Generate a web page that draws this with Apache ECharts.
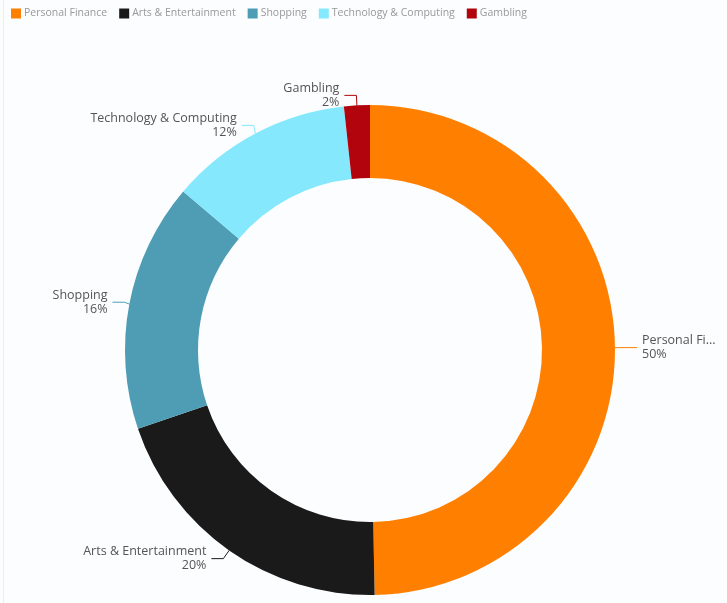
<!DOCTYPE html>
<html>
<head>
<meta charset="utf-8">
<script src="https://cdn.jsdelivr.net/npm/echarts@6/dist/echarts.min.js"></script>
<style>
  html, body { margin: 0; padding: 0; background: #fbfdfe; }
  #chart { position: absolute; left: 3px; top: 0; width: 724px; height: 603px; border-left: 1px solid #e9eef1; }
</style>
</head>
<body>
<div id="chart"></div>
<script>
const categories = ['Personal Finance', 'Arts & Entertainment', 'Shopping', 'Technology & Computing', 'Gambling'];
const values = [497, 201, 164, 121, 17];
const colors = ['#ff8000', '#1a1a1a', '#4f9db5', '#85e8fd', '#b1040d'];

const chart = echarts.init(document.getElementById('chart'));

const option = {
  color: colors,
  textStyle: { fontFamily: 'Open Sans' },
  legend: {
    left: 2,
    top: 3,
    itemWidth: 10,
    itemHeight: 10,
    itemGap: 12,
    icon: 'rect',
    textStyle: { color: '#999', fontSize: 10.5, fontFamily: 'Open Sans', padding: [0, 0, 0, -2] },
    data: categories
  },
  series: [
    {
      type: 'pie',
      center: [366, 350],
      radius: [172, 245],
      startAngle: 90,
      clockwise: true,
      percentPrecision: 0,
      avoidLabelOverlap: true,
      label: {
        formatter: '{b}\n{d}%',
        color: '#555',
        fontSize: 12.5,
        lineHeight: 14,
        fontFamily: 'Open Sans'
      },
      labelLine: { length: 10, length2: 12, lineStyle: { width: 1 } },
      data: categories.map((name, i) => {
        const item = { name, value: values[i] };
        if (i === 0) item.label = { width: 78, overflow: 'truncate' };
        return item;
      })
    }
  ]
};

chart.setOption(option);
</script>
</body>
</html>
